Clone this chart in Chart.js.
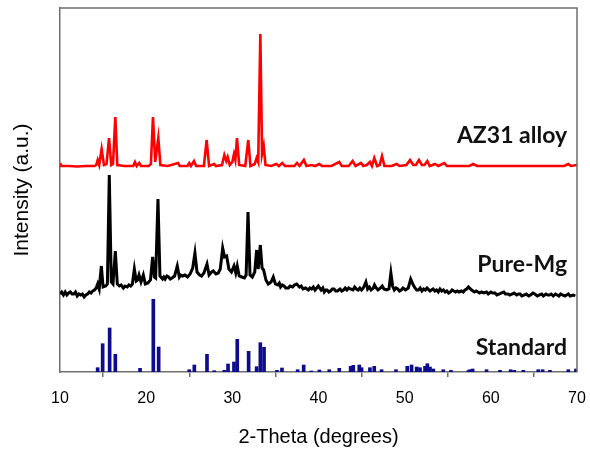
<!DOCTYPE html>
<html>
<head>
<meta charset="utf-8">
<script src="https://cdn.jsdelivr.net/npm/chart.js@4.4.1/dist/chart.umd.min.js"></script>
<style>
  html, body { margin: 0; padding: 0; background: #fff; }
  #wrap { width: 590px; height: 450px; position: relative; }
</style>
</head>
<body>
<div id="wrap"><canvas id="c" width="590" height="450"></canvas></div>
<script>
// ---- Data (2-Theta in degrees, intensity in arbitrary units, offset traces) ----
const xTicks = [10, 20, 30, 40, 50, 60, 70];

const az31X = [10.0,10.15,11,12,13,14.0,14.2,14.37,14.55,14.83,15.1,15.4,15.69,15.95,16.15,16.42,16.65,17.5,18.5,18.7,18.9,19.2,19.4,20.3,20.55,20.79,21.05,21.41,21.65,22.5,23.7,23.9,24.8,25.0,25.2,25.55,25.8,26.7,27.02,27.3,27.9,28.1,28.8,29.07,29.3,29.46,29.7,30.0,30.19,30.35,30.54,30.8,31.5,31.85,32.1,32.6,32.82,33.0,33.25,33.45,33.64,33.85,34.5,35.1,35.4,35.8,36.1,37.2,37.5,37.8,38.3,38.6,39.2,39.6,40.1,40.4,41.5,42.41,42.7,43.5,43.96,44.3,44.93,45.2,45.6,45.97,46.2,46.47,46.8,47.1,47.37,47.65,48.5,49.07,49.4,50.2,50.62,51.0,51.3,51.66,52.0,52.3,52.63,52.9,53.52,53.9,54.6,54.9,56.0,57.5,57.97,58.4,60,62,64,66,68.5,68.99,69.3,70];
const az31Y = [209,206,206,205.5,206,206,207,212,207,223,207,208,234,207,208,255,207,206,206,210,206,209,206,206,208,255,210,234,207,206,209,206,206,209,206,211,206,206,232,206,208,206,207,217,211,215,207,210,218,212,234,207,206,232,206,208,214,210,338,218,226,207,206,208,206,209,206,206,209,206,212,206,207,206,208,206,206,210,206,206,211,206,209,206,207,210,206,214,206,207,216,206,206,208,206,207,212,207,207,212,207,207,211,206,208,206,209,206,206,206,208,206,206,206,206,206,206,208,206,207];

const pureMgX = [10.0,10.2,10.4,10.6,10.8,11.0,11.2,11.4,11.6,11.8,12.0,12.2,12.4,12.6,12.8,13.0,13.2,13.4,13.6,13.8,14.0,14.2,14.37,14.55,14.8,15.0,15.3,15.5,15.72,15.95,16.15,16.42,16.65,16.9,17.1,17.35,17.55,17.8,18.0,18.2,18.4,18.63,18.85,19.0,19.17,19.4,19.67,19.9,20.2,20.5,20.75,20.95,21.1,21.37,21.6,21.9,22.05,22.2,22.4,22.6,22.8,23.0,23.3,23.61,23.85,24.0,24.2,24.5,24.8,25.1,25.4,25.66,25.9,26.2,26.43,26.7,27.06,27.3,27.6,27.79,28.1,28.37,28.6,28.88,29.1,29.34,29.6,29.9,30.19,30.4,30.57,30.8,31.1,31.4,31.6,31.82,32.05,32.32,32.6,32.82,33.0,33.25,33.45,33.63,33.9,34.17,34.5,34.75,35.0,35.26,35.45,35.6,35.8,36.0,36.2,36.5,36.7,37.0,37.2,37.47,37.8,38.0,38.2,38.5,38.82,39.0,39.2,39.4,39.6,39.98,40.3,40.5,40.67,40.85,41.0,41.2,41.4,41.6,41.8,42.0,42.2,42.5,42.7,42.9,43.1,43.3,43.5,43.7,44.0,44.2,44.4,44.6,44.8,45.0,45.2,45.5,45.7,45.9,46.1,46.36,46.5,46.7,46.9,47.2,47.4,47.6,47.9,48.18,48.4,48.6,48.8,49.0,49.2,49.4,49.6,49.8,50.1,50.42,50.7,51.0,51.2,51.4,51.6,51.8,52.0,52.2,52.4,52.6,52.94,53.1,53.3,53.5,53.7,53.9,54.1,54.3,54.5,54.7,54.9,55.1,55.3,55.5,55.7,55.9,56.1,56.3,56.6,56.8,57.0,57.2,57.4,57.77,58.1,58.3,58.5,58.7,58.9,59.2,59.5,59.7,60.0,60.2,60.5,60.7,61.0,61.2,61.5,61.7,62.0,62.2,62.5,62.7,63.0,63.2,63.4,63.6,63.9,64.1,64.4,64.6,64.9,65.1,65.4,65.6,65.9,66.1,66.4,66.6,66.8,67.0,67.25,67.5,67.7,67.9,68.1,68.3,68.6,68.8,69.0,69.2,69.57,69.8,70.0];
const pureMgY = [78,80,77,80,77,79,80,78,78,80,76,78,77,78,75,77,78,80,79,81,82,84,88,83,106,85,86,88,197,90,88,121,88,86,87,84,86,85,87,86,88,103,91,92,97,90,97,88,89,92,115,95,94,173,96,93,95,93,96,95,93,94,96,106,95,97,96,97,95,98,104,119,100,97,96,99,108,97,100,101,98,99,103,124,115,116,103,100,106,99,106,96,95,94,97,160,97,95,100,122,103,127,104,102,92,88,90,95,88,87,89,85,87,86,84,84,86,85,87,88,85,86,83,84,82,84,83,85,82,86,82,84,80,82,82,80,81,83,83,81,81,83,81,82,84,82,84,83,82,85,83,82,84,82,84,90,83,85,82,84,87,84,82,84,86,83,82,83,99,86,82,84,83,81,82,84,82,84,93,87,84,82,82,84,81,83,82,84,81,82,83,81,82,80,83,81,82,80,81,79,80,82,81,80,81,80,81,80,82,83,85,82,80,81,80,79,80,79,80,78,80,79,79,77,78,79,80,78,78,77,78,79,77,78,78,76,77,78,76,77,79,78,76,77,78,76,78,77,77,78,76,78,77,76,78,77,76,77,78,76,77,76];

const standardX = [14.37,14.95,15.76,16.42,19.29,20.83,21.45,25.0,25.59,27.06,27.9,29.07,29.5,30.19,30.57,31.89,32.82,33.25,33.68,35.18,35.76,37.58,38.28,39.17,40.1,41.25,42.41,43.73,44.04,44.73,45.0,45.97,46.47,47.32,48.99,50.3,50.8,51.39,51.78,52.36,52.63,52.94,53.32,54.48,55.37,57.4,57.58,57.89,59.5,61.06,62.3,62.72,63.77,65.5,66.01,66.86,68.99,69.88];
const standardY = [4.3,28.3,44,17.7,3.7,72.7,25,2.3,7,17.7,1.3,1.7,8,10,32.7,20.7,5.3,29.3,24.7,1.7,4,2.3,7,1,2,2.3,3.7,5.7,6.7,7,4.3,4.3,5.7,2.3,2.3,5.7,7,5,4.3,5.7,8.3,5,3,2.3,1.7,1.5,2.3,3,2.3,1.7,2.3,1.7,1.7,2.3,2.3,1.7,2.3,3];

const traceNames = ['AZ31 alloy', 'Pure-Mg', 'Standard'];

// ---- Build chart data ----
const pts = (xs, ys) => xs.map((x, i) => ({ x: x, y: ys[i] }));

const labelPlacement = [
  { text: traceNames[0], x: 68.85, y: 229 },
  { text: traceNames[1], x: 68.85, y: 100.5 },
  { text: traceNames[2], x: 68.85, y: 17 }
];

const frameColor = '#6f6f6f';

const framePlugin = {
  id: 'frame',
  afterDatasetsDraw(chart) {
    const { ctx, chartArea: a } = chart;
    ctx.save();
    ctx.strokeStyle = frameColor;
    ctx.lineWidth = 1.5;
    ctx.beginPath();
    ctx.moveTo(a.left, a.top);
    ctx.lineTo(a.right, a.top);
    ctx.lineTo(a.right, a.bottom);
    ctx.stroke();
    ctx.restore();
  }
};

const traceLabelPlugin = {
  id: 'traceLabels',
  afterDatasetsDraw(chart) {
    const { ctx, scales } = chart;
    ctx.save();
    ctx.fillStyle = '#111';
    ctx.font = 'bold 23px Lato, "Open Sans", sans-serif';
    ctx.textAlign = 'right';
    ctx.textBaseline = 'alphabetic';
    labelPlacement.forEach(l => {
      ctx.fillText(l.text, scales.x.getPixelForValue(l.x), scales.y.getPixelForValue(l.y));
    });
    ctx.restore();
  }
};

new Chart(document.getElementById('c'), {
  type: 'line',
  data: {
    datasets: [
      {
        label: traceNames[0],
        data: pts(az31X, az31Y),
        borderColor: '#ff0000',
        borderWidth: 2.6,
        pointRadius: 0,
        tension: 0,
        fill: false
      },
      {
        label: traceNames[1],
        data: pts(pureMgX, pureMgY),
        borderColor: '#000000',
        borderWidth: 3,
        pointRadius: 0,
        tension: 0,
        fill: false
      },
      {
        type: 'bar',
        label: traceNames[2],
        data: pts(standardX, standardY),
        backgroundColor: '#0c0c8c',
        borderWidth: 0,
        barThickness: 3,
        grouped: false
      }
    ]
  },
  options: {
    responsive: false,
    animation: false,
    devicePixelRatio: 1,
    layout: { padding: { top: 8, right: 13, left: 0, bottom: 0 } },
    plugins: { legend: { display: false }, tooltip: { enabled: false } },
    scales: {
      x: {
        type: 'linear',
        min: 10,
        max: 70,
        offset: false,
        afterBuildTicks(scale) { scale.ticks = xTicks.map(v => ({ value: v })); },
        afterFit(scale) { scale.height = 78; scale.paddingLeft = 0; scale.paddingRight = 0; },
        grid: {
          display: true,
          drawOnChartArea: false,
          drawTicks: true,
          tickLength: 5,
          color: frameColor,
          lineWidth: 1.5
        },
        border: { display: true, color: frameColor, width: 1.5 },
        ticks: {
          color: '#000',
          padding: 12,
          maxRotation: 0,
          font: { family: '"Liberation Sans", Arial, sans-serif', size: 16 }
        },
        title: {
          display: true,
          text: '2-Theta (degrees)',
          color: '#000',
          font: { family: '"Liberation Sans", Arial, sans-serif', size: 20 },
          padding: { top: 0, bottom: 1 }
        }
      },
      y: {
        type: 'linear',
        min: 0,
        max: 364,
        afterFit(scale) { scale.width = 60; },
        grid: { display: false },
        border: { display: true, color: frameColor, width: 1.5 },
        ticks: { display: false },
        title: {
          display: true,
          text: 'Intensity (a.u.)',
          color: '#000',
          font: { family: '"Liberation Sans", Arial, sans-serif', size: 21 },
          padding: { top: 10, bottom: 0 }
        }
      }
    }
  },
  plugins: [framePlugin, traceLabelPlugin]
});
</script>
</body>
</html>
